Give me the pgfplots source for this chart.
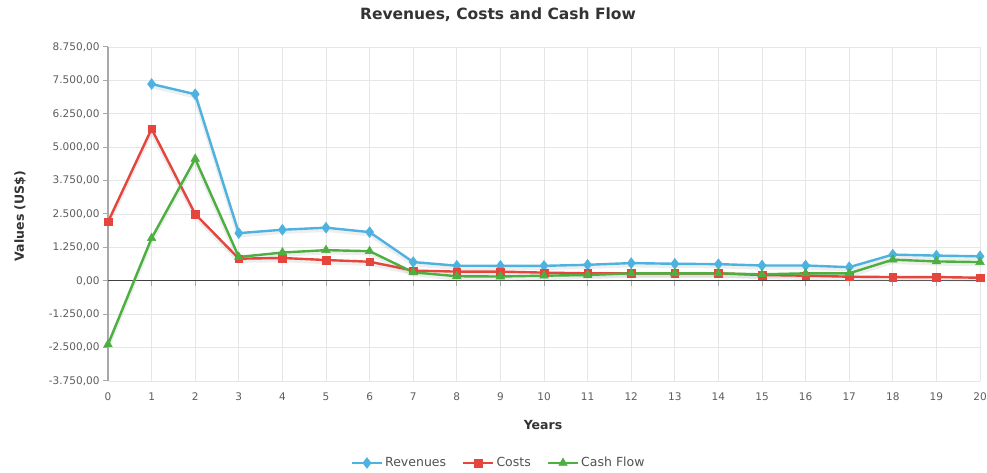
\documentclass[border=0pt]{standalone}
\usepackage{pgfplots}
\pgfplotsset{compat=1.18}
\usepackage{fontspec}
\setmainfont{DejaVu Sans}

\definecolor{rev}{HTML}{4DB2E0}
\definecolor{cost}{HTML}{E5453C}
\definecolor{cash}{HTML}{4CAF3F}
\definecolor{gridc}{HTML}{E6E6E6}
\definecolor{axc}{HTML}{A8A8A8}
\definecolor{txt}{HTML}{333333}

% Revenues start in year 1; costs and cash flow start in year 0
\pgfplotstableread{
year rev
1  7365
2  6983
3  1784
4  1911
5  1988
6  1822
7  701
8  565
9  560
10 560
11 599
12 663
13 637
14 624
15 573
16 573
17 510
18 981
19 943
20 917
}\revdata
\pgfplotstableread{
year cost cash
0  2204 -2383
1  5683 1593
2  2497 4562
3  828  892
4  854  1058
5  777  1147
6  714  1109
7  382  319
8  344  170
9  344  160
10 306  191
11 280  217
12 280  280
13 280  280
14 280  280
15 217  242
16 191  280
17 153  280
18 140  790
19 140  726
20 115  700
}\cfdata

\begin{document}
\begin{tikzpicture}
\begin{axis}[
  at={(108pt,92pt)}, anchor=south west,
  scale only axis, width=872pt, height=334pt,
  xmin=0, xmax=20, ymin=-3750, ymax=8750,
  xtick={0,...,20}, ytick={-3750,-2500,...,8750},
  grid=major, major grid style={gridc, line width=0.8pt},
  axis x line*=bottom, axis y line*=left,
  x axis line style={draw=none},
  y axis line style={axc, line width=1.8pt},
  x tick style={draw=none},
  y tick style={axc, line width=1pt},
  tick align=outside, major tick length=5pt,
  scaled y ticks=false,
  yticklabel style={font=\fontsize{10.5}{12}\selectfont, text=txt!80,
    /pgf/number format/.cd, assume math mode=true, fixed, fixed zerofill,
    precision=2, 1000 sep={.}, use comma},
  xticklabel style={font=\fontsize{10.5}{12}\selectfont, text=txt!80, yshift=-3pt,
    /pgf/number format/.cd, assume math mode=true, fixed, precision=0},
  legend style={at={(0.448,-0.2455)}, anchor=center, draw=none,
    font=\fontsize{12.5}{14}\selectfont, text=txt!85,
    /tikz/every even column/.append style={column sep=14pt}},
  legend columns=3,
  legend image code/.code={\draw[mark repeat=2,mark phase=2]
    plot coordinates {(0pt,0pt)(15pt,0pt)(30pt,0pt)};},
  every axis plot/.append style={line width=2.4pt},
]
% zero line with small ticks
\draw[black!75, line width=1.1pt] (axis cs:0,0) -- (axis cs:20,0);
\pgfplotsinvokeforeach{0,...,20}{\draw[axc, line width=0.9pt] (axis cs:#1,0) -- ++(0pt,-5pt);}

% soft shadows under the series
\addplot[forget plot, gray!60, opacity=0.22, line width=4.5pt, yshift=-2pt] table[x=year,y=rev]{\revdata};
\addplot[forget plot, gray!60, opacity=0.22, line width=4.5pt, yshift=-2pt] table[x=year,y=cost]{\cfdata};
\addplot[forget plot, gray!60, opacity=0.22, line width=4.5pt, yshift=-2pt] table[x=year,y=cash]{\cfdata};

\addplot[rev, mark=diamond*, mark size=5.4pt, mark options={line width=0.5pt}] table[x=year,y=rev]{\revdata};
\addlegendentry{Revenues}
\addplot[cost, mark=square*, mark size=3.8pt, mark options={line width=0.5pt}] table[x=year,y=cost]{\cfdata};
\addlegendentry{Costs}
\addplot[cash, mark=triangle*, mark size=5pt, mark options={line width=0.5pt}] table[x=year,y=cash]{\cfdata};
\addlegendentry{Cash Flow}
\end{axis}

\node[font=\bfseries\fontsize{15.5}{18}\selectfont, text=txt] at (498pt,458pt) {Revenues, Costs and Cash Flow};
\node[font=\bfseries\fontsize{12.5}{14}\selectfont, text=txt, rotate=90] at (20pt,257pt) {Values (US\$)};
\node[font=\bfseries\fontsize{12.5}{14}\selectfont, text=txt] at (543pt,48pt) {Years};

\pgfresetboundingbox
\path[use as bounding box] (0pt,0pt) rectangle (987pt,473pt);
\end{tikzpicture}
\end{document}
